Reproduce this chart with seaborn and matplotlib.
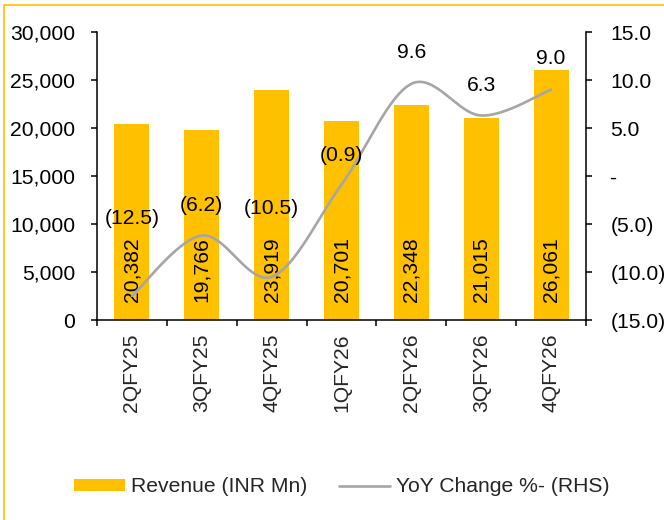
import numpy as np
import pandas as pd
import matplotlib
matplotlib.use("Agg")
import matplotlib.pyplot as plt
import seaborn as sns
from matplotlib.ticker import FuncFormatter, FixedLocator
from matplotlib.patches import Rectangle, Patch
from matplotlib.lines import Line2D

# ---- data ----
quarters = ["2QFY25", "3QFY25", "4QFY25", "1QFY26", "2QFY26", "3QFY26", "4QFY26"]
revenue = [20382, 19766, 23919, 20701, 22348, 21015, 26061]
yoy = [-12.5, -6.2, -10.5, -0.9, 9.6, 6.3, 9.0]
series_names = ["Revenue (INR Mn)", "YoY Change %- (RHS)"]

# label placement (pixels above each line point) - style only
yoy_label_offsets_px = [78, 30, 68, 29, 31, 30, 31]

BAR_COLOR = "#FFC000"
LINE_COLOR = "#A6A6A6"
FS = 15.2

sns.set_style("white")
plt.rcParams["font.family"] = ["Liberation Sans", "DejaVu Sans"]

W, H = 664, 520
fig = plt.figure(figsize=(W / 100, H / 100), dpi=100)
ax = fig.add_axes([97 / W, 1 - 320 / H, (586 - 97) / W, 288 / H])

df = pd.DataFrame({"Quarter": quarters, "Revenue": revenue})
sns.barplot(data=df, x="Quarter", y="Revenue", color=BAR_COLOR, saturation=1,
            width=0.5, linewidth=0, ax=ax)
ax.set_xlim(-0.5, len(quarters) - 0.5)
ax.set_ylim(0, 30000)
ax.set_yticks(np.arange(0, 30001, 5000))
ax.yaxis.set_major_formatter(FuncFormatter(lambda v, p: f"{v:,.0f}"))
ax.set_xlabel("")
ax.set_ylabel("")
for s in ["top", "right"]:
    ax.spines[s].set_visible(False)
for s in ["left", "bottom"]:
    ax.spines[s].set_color("black")
    ax.spines[s].set_linewidth(1.1)
ax.tick_params(axis="y", direction="out", length=4.5, width=1.1, pad=11,
               labelsize=FS, left=True, colors="black")
ax.tick_params(axis="x", which="major", length=0, pad=10, labelsize=FS,
               labelrotation=90)
ax.xaxis.set_minor_locator(FixedLocator(np.arange(-0.5, len(quarters), 1.0)))
ax.tick_params(axis="x", which="minor", direction="out", length=4.5, width=1.1,
               bottom=True, colors="black")
ax.grid(False)

# bar value labels
for i, v in enumerate(revenue):
    ax.annotate(f"{v:,}", xy=(i, 0), xytext=(0, 18), textcoords="offset pixels",
                rotation=90, ha="center", va="bottom", fontsize=FS, color="black")

# secondary axis
ax2 = ax.twinx()
ax2.set_ylim(-15, 15)
ax2.set_yticks(np.arange(-15, 15.1, 5))


def fmt_r(v, p):
    if abs(v) < 1e-9:
        return "-"
    if v < 0:
        return f"({abs(v):.1f})"
    return f"{v:.1f}"


ax2.yaxis.set_major_formatter(FuncFormatter(fmt_r))
for s in ["top", "left", "bottom"]:
    ax2.spines[s].set_visible(False)
ax2.spines["right"].set_color("black")
ax2.spines["right"].set_linewidth(1.1)
ax2.tick_params(axis="y", direction="out", length=4.5, width=1.1, pad=13,
                labelsize=FS, right=True, colors="black")
ax2.grid(False)

# smoothed line (Excel-style Bezier smoothing through the data points)
xs = np.arange(len(yoy), dtype=float)
ys = np.array(yoy, dtype=float)
P = np.column_stack([xs, ys])
Pext = np.vstack([P[0], P, P[-1]])
curve = []
t = np.linspace(0, 1, 40)[:, None]
for i in range(len(P) - 1):
    p0 = P[i]
    p3 = P[i + 1]
    p1 = p0 + (Pext[i + 2] - Pext[i]) / 6.0
    p2 = p3 - (Pext[i + 3] - Pext[i + 1]) / 6.0
    seg = ((1 - t) ** 3) * p0 + 3 * ((1 - t) ** 2) * t * p1 + 3 * (1 - t) * t ** 2 * p2 + t ** 3 * p3
    curve.append(seg if i == 0 else seg[1:])
curve = np.vstack(curve)
ax2.plot(curve[:, 0], curve[:, 1], color=LINE_COLOR, lw=1.9, solid_capstyle="round")

for i, (v, off) in enumerate(zip(yoy, yoy_label_offsets_px)):
    ax2.annotate(fmt_r(v, None), xy=(i, v), xytext=(0, off), textcoords="offset pixels",
                 ha="center", va="center", fontsize=FS, color="black")

# legend
handles = [Patch(facecolor=BAR_COLOR, edgecolor="none"),
           Line2D([], [], color=LINE_COLOR, lw=1.9)]
fig.legend(handles, series_names, loc="center", bbox_to_anchor=(0.514, 1 - 487 / H),
           ncol=2, frameon=False, fontsize=FS, handlelength=2.45, handleheight=0.52,
           handletextpad=0.25, columnspacing=1.5)

# figure border
fig.add_artist(Rectangle((4 / W, -0.05), 1.0, 1 - 5 / H + 0.05, transform=fig.transFigure,
                         fill=False, edgecolor=BAR_COLOR, lw=1.2))

fig.savefig("out.png", dpi=100, facecolor="white")
